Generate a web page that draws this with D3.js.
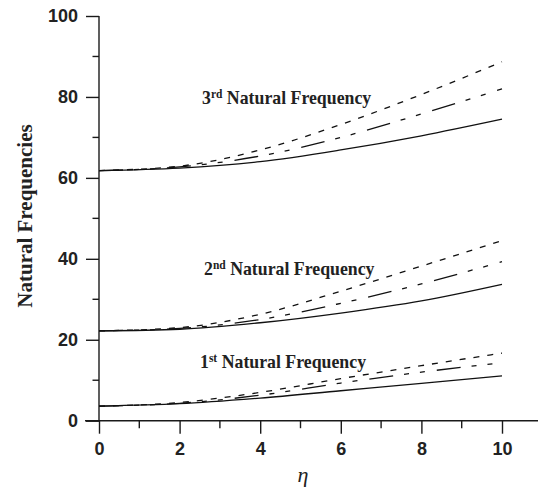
<!DOCTYPE html>
<html>
<head>
<meta charset="utf-8">
<script src="https://cdn.jsdelivr.net/npm/d3@7"></script>
<style>
  body { margin: 0; background: #fff; }
  svg { display: block; }
</style>
</head>
<body>
<svg class="target"></svg>
<script>
// eta values along the x axis
const eta = [0, 2, 4, 6, 8, 10];

// 1st natural frequency
const mode1Solid   = [3.6, 4.2, 5.6, 7.4, 9.2, 11.1];
const mode1DashDot = [3.6, 4.3, 6.3, 9.3, 12.0, 14.3];
const mode1Dash    = [3.6, 4.5, 7.0, 10.4, 13.6, 16.7];

// 2nd natural frequency
const mode2Solid   = [22.2, 22.6, 24.2, 26.6, 29.6, 33.7];
const mode2DashDot = [22.2, 22.8, 25.0, 29.0, 33.8, 39.3];
const mode2Dash    = [22.2, 23.0, 26.3, 32.0, 38.2, 44.5];

// 3rd natural frequency
const mode3Solid   = [61.8, 62.4, 64.0, 66.9, 70.4, 74.5];
const mode3DashDot = [61.8, 62.7, 65.4, 70.0, 75.8, 82.0];
const mode3Dash    = [61.8, 62.9, 66.9, 73.2, 80.6, 88.7];

const xMajorTicks = [0, 2, 4, 6, 8, 10];
const xMinorTicks = [1, 3, 5, 7, 9];
const yMajorTicks = [0, 20, 40, 60, 80, 100];
const yMinorTicks = [10, 30, 50, 70, 90];

const annotations = [
    { num: "1", sup: "st", value: 12.9 },
    { num: "2", sup: "nd", value: 35.9 },
    { num: "3", sup: "rd", value: 78.2 }
];

document.addEventListener("DOMContentLoaded", function() {
    drawChart();
});

function drawChart() {
    const width = 539;
    const height = 489;
    const svg = d3.select(".target")
        .attr("width", width)
        .attr("height", height);

    const x = d3.scaleLinear().domain([0, 10]).range([99, 502]);
    const y = d3.scaleLinear().domain([0, 100]).range([420.7, 16]);

    const axisColor = "#1a1a1a";

    // x axis
    svg.append("line")
        .attr("x1", 85).attr("x2", 538)
        .attr("y1", y(0)).attr("y2", y(0))
        .attr("stroke", axisColor).attr("stroke-width", 1.4);

    const xAxis = svg.append("g")
        .attr("transform", "translate(0," + y(0) + ")")
        .call(d3.axisBottom(x).tickValues(xMajorTicks).tickSize(13).tickPadding(9));
    xAxis.select(".domain").remove();
    xAxis.selectAll(".tick line").attr("stroke", axisColor).attr("stroke-width", 1.4);
    xAxis.selectAll(".tick text")
        .attr("font-family", "Liberation Sans, Arial, sans-serif")
        .attr("font-weight", "bold")
        .attr("font-size", 18)
        .attr("fill", "#222");

    svg.append("g")
        .selectAll("line")
        .data(xMinorTicks)
        .enter()
        .append("line")
        .attr("x1", d => x(d)).attr("x2", d => x(d))
        .attr("y1", y(0)).attr("y2", y(0) + 7.5)
        .attr("stroke", axisColor).attr("stroke-width", 1.4);

    // y axis
    svg.append("line")
        .attr("x1", x(0)).attr("x2", x(0))
        .attr("y1", y(100)).attr("y2", y(0))
        .attr("stroke", axisColor).attr("stroke-width", 1.4);

    const yAxis = svg.append("g")
        .attr("transform", "translate(" + x(0) + ",0)")
        .call(d3.axisLeft(y).tickValues(yMajorTicks).tickSize(13).tickPadding(8));
    yAxis.select(".domain").remove();
    yAxis.selectAll(".tick line").attr("stroke", axisColor).attr("stroke-width", 1.4);
    yAxis.selectAll(".tick text")
        .attr("font-family", "Liberation Sans, Arial, sans-serif")
        .attr("font-weight", "bold")
        .attr("font-size", 18)
        .attr("fill", "#222");

    svg.append("g")
        .selectAll("line")
        .data(yMinorTicks)
        .enter()
        .append("line")
        .attr("x1", x(0) - 6.5).attr("x2", x(0))
        .attr("y1", d => y(d)).attr("y2", d => y(d))
        .attr("stroke", axisColor).attr("stroke-width", 1.4);

    // axis titles
    svg.append("text")
        .attr("transform", "translate(31.5,216) rotate(-90)")
        .attr("text-anchor", "middle")
        .attr("font-family", "Liberation Serif, Times New Roman, serif")
        .attr("font-weight", "bold")
        .attr("font-size", 21)
        .attr("fill", "#222")
        .text("Natural Frequencies");

    svg.append("text")
        .attr("x", 303).attr("y", 481.5)
        .attr("text-anchor", "middle")
        .attr("font-family", "Liberation Serif, Times New Roman, serif")
        .attr("font-style", "italic")
        .attr("font-size", 22)
        .attr("fill", "#222")
        .text("η");

    // curves
    const series = [
        { values: mode1Solid, dash: null },
        { values: mode1DashDot, dash: "24,11,5,11,5,12" },
        { values: mode1Dash, dash: "6,8" },
        { values: mode2Solid, dash: null },
        { values: mode2DashDot, dash: "24,11,5,11,5,12" },
        { values: mode2Dash, dash: "6,8" },
        { values: mode3Solid, dash: null },
        { values: mode3DashDot, dash: "24,11,5,11,5,12" },
        { values: mode3Dash, dash: "6,8" }
    ];

    const line = d3.line()
        .x(d => x(d[0]))
        .y(d => y(d[1]))
        .curve(d3.curveMonotoneX);

    svg.append("g")
        .selectAll("path")
        .data(series)
        .enter()
        .append("path")
        .attr("d", d => line(eta.map((e, i) => [e, d.values[i]])))
        .attr("fill", "none")
        .attr("stroke", "#111")
        .attr("stroke-width", 1.3)
        .attr("stroke-dasharray", d => d.dash);

    // labels for each mode
    const labelX = [200, 204, 202];
    const labels = svg.append("g")
        .selectAll("text")
        .data(annotations)
        .enter()
        .append("text")
        .attr("x", (d, i) => labelX[i])
        .attr("y", d => y(d.value))
        .attr("font-family", "Liberation Serif, Times New Roman, serif")
        .attr("font-weight", "bold")
        .attr("font-size", 17.8)
        .attr("fill", "#222");
    labels.append("tspan").text(d => d.num);
    labels.append("tspan").attr("font-size", 11.5).attr("dy", -6.5).text(d => d.sup);
    labels.append("tspan").attr("dy", 6.5).text(" Natural Frequency");
}
</script>
</body>
</html>
